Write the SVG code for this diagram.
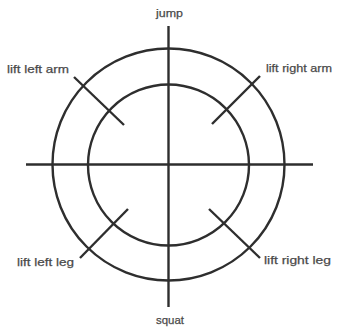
<svg xmlns="http://www.w3.org/2000/svg" width="338" height="327" viewBox="0 0 338 327">
<style>
.l{stroke:#2e2e2e;stroke-width:2.4;fill:none;stroke-linecap:butt}
.t{font-family:"Liberation Sans",Arial,sans-serif;font-size:11.5px;fill:#4a4a4a;stroke:#4a4a4a;stroke-width:0.25}
</style>
<rect width="338" height="327" fill="#fff"/>
<g id="circles">
<circle class="l" cx="168.5" cy="164.5" r="116"/>
<circle class="l" cx="168.5" cy="165" r="80.5"/>
</g>
<g id="connectors">
<line class="l" x1="168.5" y1="26" x2="168.5" y2="307"/>
<line class="l" x1="26" y1="164.5" x2="313" y2="164.5"/>
<line class="l" x1="74" y1="77" x2="124" y2="125"/>
<line class="l" x1="260" y1="76" x2="212" y2="124"/>
<line class="l" x1="80" y1="258" x2="128" y2="209"/>
<line class="l" x1="209" y1="209" x2="260" y2="258"/>
</g>
<g id="jump"><text class="t" x="156" y="17" textLength="27" lengthAdjust="spacingAndGlyphs">jump</text></g>
<g id="lift-left-arm"><text class="t" x="7" y="73" textLength="62" lengthAdjust="spacingAndGlyphs">lift left arm</text></g>
<g id="lift-right-arm"><text class="t" x="266" y="72" textLength="66" lengthAdjust="spacingAndGlyphs">lift right arm</text></g>
<g id="lift-left-leg"><text class="t" x="17" y="266" textLength="57" lengthAdjust="spacingAndGlyphs">lift left leg</text></g>
<g id="lift-right-leg"><text class="t" x="264" y="264" textLength="67" lengthAdjust="spacingAndGlyphs">lift right leg</text></g>
<g id="squat"><text class="t" x="156" y="324" textLength="28" lengthAdjust="spacingAndGlyphs">squat</text></g>
</svg>
